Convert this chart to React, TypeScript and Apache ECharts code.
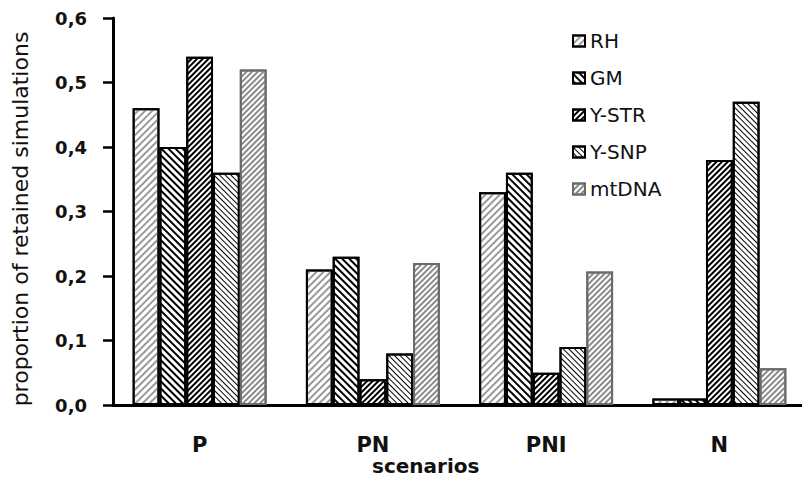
import { useEffect, useRef } from "react";
import * as echarts from "echarts";

const categories = ["P", "PN", "PNI", "N"];
const seriesNames = ["RH", "GM", "Y-STR", "Y-SNP", "mtDNA"];
const rhValues = [0.46, 0.21, 0.33, 0.01];
const gmValues = [0.4, 0.23, 0.36, 0.01];
const ystrValues = [0.54, 0.04, 0.05, 0.38];
const ysnpValues = [0.36, 0.08, 0.09, 0.47];
const mtdnaValues = [0.52, 0.22, 0.207, 0.057];
const yMin = 0;
const yMax = 0.6;
const yStep = 0.1;
const xTitle = "scenarios";
const yTitle = "proportion of retained simulations";

const allValues = [rhValues, gmValues, ystrValues, ysnpValues, mtdnaValues];

const FONT = "DejaVu Sans";
const SLASH = -Math.PI / 4;
const BACK = Math.PI / 4;

const styles = [
  { line: "#9a9a9a", dash: [2, 3], rot: SLASH, border: "#000" },
  { line: "#000", dash: [2, 3], rot: BACK, border: "#000" },
  { line: "#000", dash: [2, 2], rot: SLASH, border: "#000" },
  { line: "#000", dash: [1, 3], rot: BACK, border: "#000" },
  { line: "#8a8a8a", dash: [2, 2], rot: SLASH, border: "#6a6a6a" },
];

export default function App() {
  const ref = useRef<HTMLDivElement>(null);
  useEffect(() => {
    document.body.style.margin = "0";
    if (!ref.current) return;
    const chart = echarts.init(ref.current, null, { renderer: "svg" });
    chart.setOption({
      animation: false,
      backgroundColor: "#fff",
      title: {
        text: xTitle,
        left: 372,
        top: 456,
        padding: 0,
        textStyle: {
          fontFamily: FONT,
          fontSize: 20,
          lineHeight: 20,
          fontWeight: "bold",
          color: "#111",
        },
      },
      grid: {
        left: 113,
        top: 18,
        width: 693,
        height: 387,
        containLabel: false,
        outerBoundsMode: "none",
      },
      legend: {
        orient: "vertical",
        left: 567,
        top: 26,
        itemWidth: 12,
        itemHeight: 11,
        itemGap: 17,
        icon: "rect",
        data: seriesNames,
        textStyle: {
          fontFamily: FONT,
          fontSize: 20,
          lineHeight: 20,
          color: "#111",
        },
      },
      xAxis: {
        type: "category",
        data: categories,
        axisLine: { lineStyle: { color: "#000", width: 3 } },
        axisTick: { length: 7, lineStyle: { color: "#000", width: 2.5 } },
        axisLabel: {
          margin: 29,
          fontFamily: FONT,
          fontSize: 21,
          fontWeight: "bold",
          color: "#111",
        },
      },
      yAxis: {
        type: "value",
        min: yMin,
        max: yMax,
        interval: yStep,
        name: yTitle,
        nameLocation: "middle",
        nameGap: 82,
        nameTextStyle: {
          fontFamily: FONT,
          fontSize: 22,
          color: "#111",
          padding: [0, 15, 0, 0],
        },
        splitLine: { show: false },
        axisLine: { show: true, lineStyle: { color: "#000", width: 3 } },
        axisTick: { show: true, length: 10, lineStyle: { color: "#000", width: 2.5 } },
        axisLabel: {
          margin: 26,
          fontFamily: FONT,
          fontSize: 18,
          fontWeight: "bold",
          color: "#111",
          formatter: (v: number) => v.toFixed(1).replace(".", ","),
        },
      },
      series: seriesNames.map((name, i) => ({
        name,
        type: "bar",
        data: allValues[i],
        barGap: "0%",
        barCategoryGap: "22.7%",
        itemStyle: {
          color: "#fff",
          borderColor: styles[i].border,
          borderWidth: 2,
          decal: {
            symbol: "rect",
            symbolSize: 1,
            dashArrayX: [1, 0],
            dashArrayY: styles[i].dash,
            rotation: styles[i].rot,
            color: styles[i].line,
            backgroundColor: "#fff",
          },
        },
      })),
    });
    return () => chart.dispose();
  }, []);
  return <div ref={ref} style={{ width: 802, height: 480 }} />;
}
